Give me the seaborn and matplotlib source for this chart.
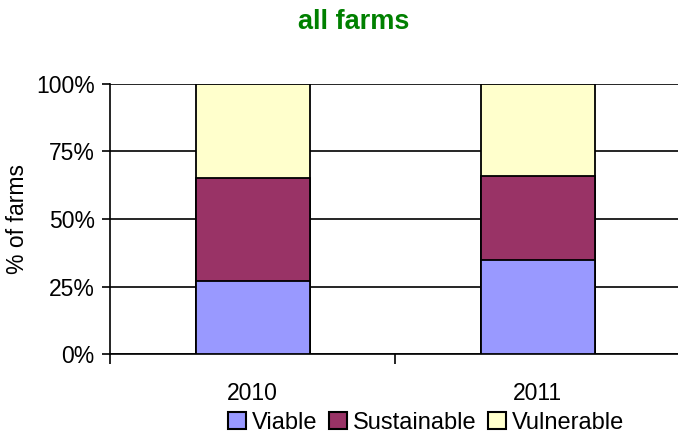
import pandas as pd
import seaborn as sns
import matplotlib.pyplot as plt
from matplotlib.patches import Patch
from matplotlib.ticker import PercentFormatter, FixedLocator

years = ["2010", "2011"]
viable = [27, 35]
sustainable = [38, 31]
vulnerable = [35, 34]
series = ["Viable", "Sustainable", "Vulnerable"]
colors = ["#9999FF", "#993366", "#FFFFCC"]

sns.set_theme(style="white")
plt.rcParams["font.family"] = ["Liberation Sans", "DejaVu Sans"]
plt.rcParams["text.color"] = "black"
plt.rcParams["axes.labelcolor"] = "black"
plt.rcParams["xtick.color"] = "black"
plt.rcParams["ytick.color"] = "black"

df = pd.DataFrame({"year": years, "Viable": viable,
                   "Sustainable": sustainable, "Vulnerable": vulnerable})
# cumulative tops so that stacked bars can be drawn back to front
df["c_viable"] = df["Viable"]
df["c_sustainable"] = df["Viable"] + df["Sustainable"]
df["c_vulnerable"] = df["c_sustainable"] + df["Vulnerable"]

fig = plt.figure(figsize=(6.78, 4.37), dpi=100)
ax = fig.add_axes([110 / 678, 1 - 354.3 / 437, 570 / 678, 270.6 / 437])

for col, c in [("c_vulnerable", colors[2]), ("c_sustainable", colors[1]), ("c_viable", colors[0])]:
    sns.barplot(data=df, x="year", y=col, color=c, width=0.4, edgecolor="black",
                linewidth=1.3, saturation=1, ax=ax, zorder=3)

ax.set_ylim(0, 100)
ax.set_xlim(-0.5, 1.5)
ax.yaxis.set_major_locator(FixedLocator([0, 25, 50, 75, 100]))
ax.yaxis.set_major_formatter(PercentFormatter(decimals=0))
ax.grid(axis="y", color="black", linewidth=1.2, zorder=0)
ax.set_axisbelow(True)

for s in ["top", "right"]:
    ax.spines[s].set_visible(False)
for s in ["left", "bottom"]:
    ax.spines[s].set_color("black")
    ax.spines[s].set_linewidth(1.2)

ax.tick_params(axis="y", which="major", left=True, length=6, width=1.2, color="black",
               labelcolor="black", direction="out", labelsize=16.5, pad=5)
ax.tick_params(axis="x", which="major", bottom=False, labelsize=16.5, labelcolor="black", pad=14)
ax.set_xticks([-0.5, 0.5, 1.5], minor=True)
ax.tick_params(axis="x", which="minor", bottom=True, length=7, width=1.2,
               color="black", direction="out")

ax.set_xlabel("")
ax.set_ylabel("")
fig.text(18 / 678, 1 - 219 / 437, "% of farms", rotation=90, ha="center", va="center",
         fontsize=16.5, color="black")

fig.text(354 / 678, 1 - 22 / 437, "all farms", ha="center", va="center",
         fontsize=19.5, fontweight="bold", color="#008000")

handles = [Patch(facecolor=c, edgecolor="black", linewidth=1.5) for c in colors]
fig.legend(handles, series, loc="center", bbox_to_anchor=(426 / 678, 1 - 423 / 437),
           ncol=3, frameon=False, fontsize=17, handlelength=0.75, handleheight=0.75,
           handletextpad=0.25, columnspacing=0.5, borderaxespad=0, labelcolor="black")

fig.savefig("out.png", dpi=100)
